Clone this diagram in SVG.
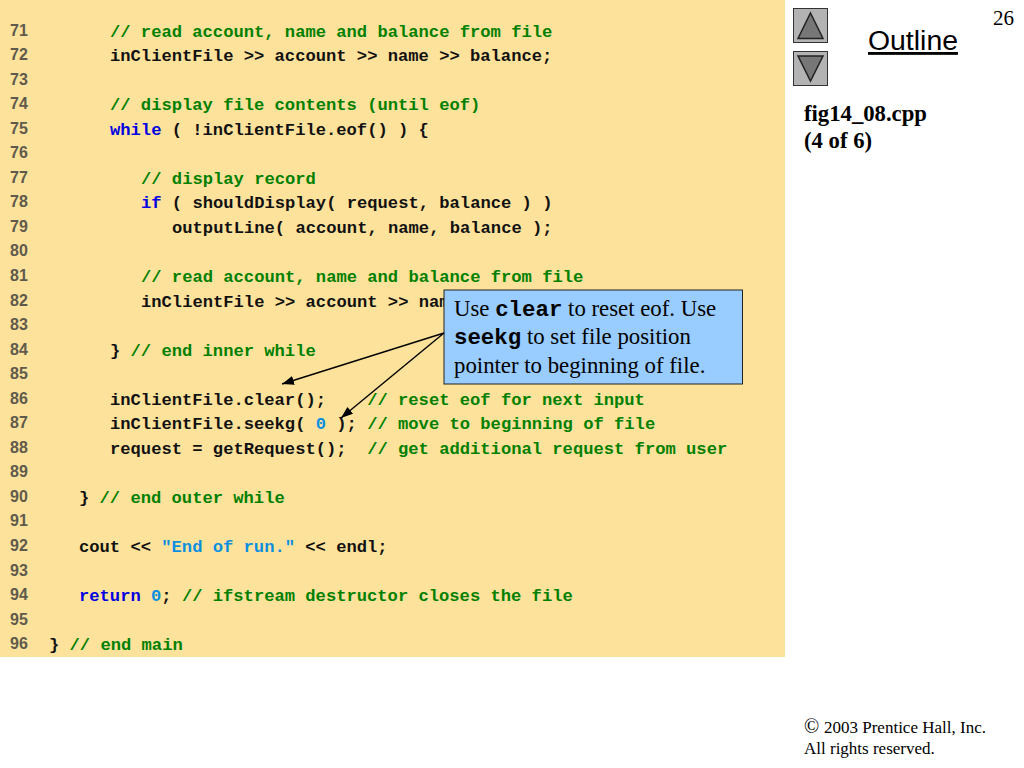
<svg xmlns="http://www.w3.org/2000/svg" width="1024" height="768" viewBox="0 0 1024 768">
<style>
.n{font:bold 16px "Liberation Sans",Arial,sans-serif;fill:#5f5a4c}
.c{font:bold 17.15px "Liberation Mono","Courier New",monospace;fill:#111}
.g{fill:#008000}.b{fill:#0000e0}.l{fill:#0a8fe0}
.t{font-family:"Liberation Serif","Times New Roman",serif;fill:#000}
.m{font:bold 22.4px "Liberation Mono","Courier New",monospace;fill:#000}
.btn{fill:#b3b3b3;stroke:#333;stroke-width:1}
.tri{fill:#777;stroke:#222;stroke-width:1.5}
.arrow{fill:none;stroke:#000;stroke-width:1.4;marker-end:url(#ah)}
</style>
<defs><marker id="ah" markerUnits="userSpaceOnUse" markerWidth="14" markerHeight="10" refX="12" refY="4.500" orient="auto"><path d="M0 0L12 4.500L0 9Z" fill="#000"/></marker></defs>
<rect width="1024" height="768" fill="#fff"/>
<rect id="code-bg" width="785" height="657" fill="#fde29b"/>
<g id="line-numbers" class="n">
<text x="10" y="36">71</text><text x="10" y="60">72</text><text x="10" y="85">73</text><text x="10" y="109">74</text><text x="10" y="134">75</text><text x="10" y="158">76</text><text x="10" y="183">77</text><text x="10" y="207">78</text><text x="10" y="232">79</text><text x="10" y="256">80</text><text x="10" y="281">81</text><text x="10" y="306">82</text><text x="10" y="330">83</text><text x="10" y="355">84</text><text x="10" y="379">85</text><text x="10" y="404">86</text><text x="10" y="428">87</text><text x="10" y="453">88</text><text x="10" y="477">89</text><text x="10" y="502">90</text><text x="10" y="526">91</text><text x="10" y="551">92</text><text x="10" y="576">93</text><text x="10" y="600">94</text><text x="10" y="625">95</text><text x="10" y="649">96</text>
</g>
<g id="code" class="c">
<text x="110" y="36.500" class="c g">// read account, name and balance from file</text>
<text x="110" y="60.500">inClientFile &gt;&gt; account &gt;&gt; name &gt;&gt; balance;</text>
<text x="110" y="109.500" class="c g">// display file contents (until eof)</text>
<text x="110" y="134.500"><tspan class="b">while</tspan> ( !inClientFile.eof() ) {</text>
<text x="141" y="183.500" class="c g">// display record</text>
<text x="141" y="207.500"><tspan class="b">if</tspan> ( shouldDisplay( request, balance ) )</text>
<text x="172" y="232.500">outputLine( account, name, balance );</text>
<text x="141" y="281.500" class="c g">// read account, name and balance from file</text>
<text x="141" y="306.500">inClientFile &gt;&gt; account &gt;&gt; nam</text>
<text x="110" y="355.500">} <tspan class="g">// end inner while</tspan></text>
<text x="110" y="404.500">inClientFile.clear();<tspan class="g" x="367.200">// reset eof for next input</tspan></text>
<text x="110" y="429">inClientFile.seekg( <tspan class="l">0</tspan> ); <tspan class="g">// move to beginning of file</tspan></text>
<text x="110" y="453.500">request = getRequest();<tspan class="g" x="367.200">// get additional request from user</tspan></text>
<text x="79" y="502.500">} <tspan class="g">// end outer while</tspan></text>
<text x="79" y="551.500">cout &lt;&lt; <tspan class="l">"End of run."</tspan> &lt;&lt; endl;</text>
<text x="79" y="600.500"><tspan class="b">return</tspan> <tspan class="l">0</tspan>; <tspan class="g">// ifstream destructor closes the file</tspan></text>
<text x="49" y="649.500">} <tspan class="g">// end main</tspan></text>
</g>
<g id="callout">
<rect x="444" y="290" width="298.500" height="94" fill="#99ccff" stroke="#222" stroke-width="1"/>
<text class="t" font-size="22.8" x="454" y="316">Use <tspan class="m">clear</tspan> to reset eof. Use</text>
<text class="t" font-size="22.8" x="454" y="344"><tspan class="m">seekg</tspan> to set file position</text>
<text class="t" font-size="22.8" x="454" y="373">pointer to beginning of file.</text>
</g>
<g id="connectors">
<line class="arrow" x1="444" y1="333" x2="282" y2="384"/>
<line class="arrow" x1="444" y1="333" x2="341" y2="418"/>
</g>
<g id="nav-up"><rect class="btn" x="793.500" y="8.500" width="34" height="34"/><path class="tri" d="M810.500 13L823 38.500H798Z"/></g>
<g id="nav-down"><rect class="btn" x="793.500" y="51.500" width="34" height="34"/><path class="tri" d="M798 56H823L810.500 81Z"/></g>
<g id="outline"><text x="868" y="50" font-family="'Liberation Sans',Arial,sans-serif" font-size="28.4" text-decoration="underline">Outline</text></g>
<g id="page-number"><text class="t" x="993" y="25" font-size="21">26</text></g>
<g id="file-label" class="t" font-size="22.7" font-weight="bold"><text x="804" y="121">fig14_08.cpp</text><text x="804" y="148">(4 of 6)</text></g>
<g id="copyright" class="t" font-size="17"><text x="804" y="733"><tspan font-size="20">©</tspan><tspan x="824">2003 Prentice Hall, Inc.</tspan></text><text x="804" y="754">All rights reserved.</text></g>
</svg>
